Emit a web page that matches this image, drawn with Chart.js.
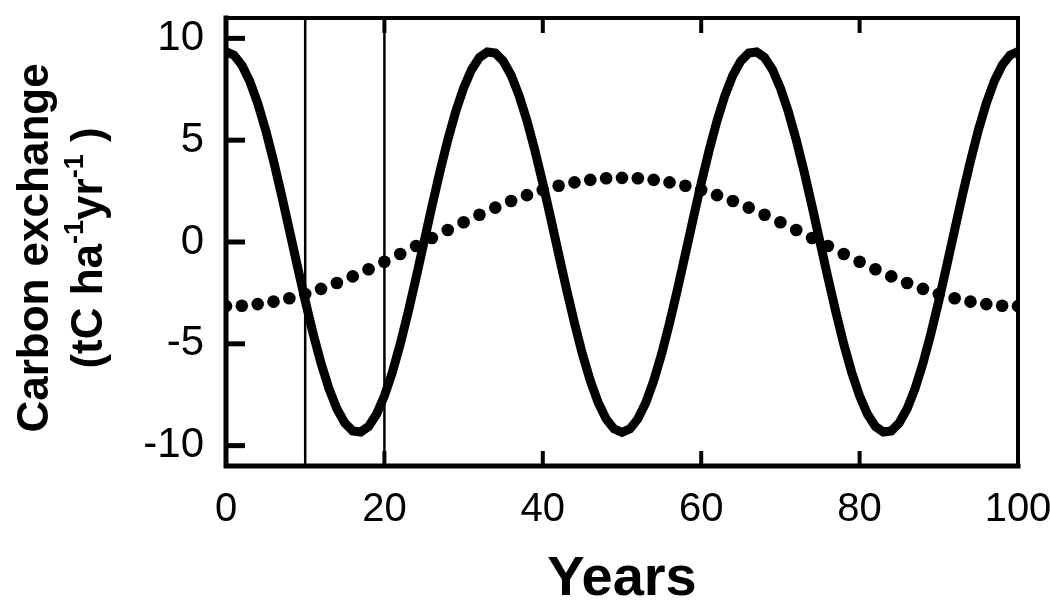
<!DOCTYPE html>
<html>
<head>
<meta charset="utf-8">
<title>Carbon exchange</title>
<script src="https://cdn.jsdelivr.net/npm/chart.js@4.4.1/dist/chart.umd.min.js"></script>
<style>
    html, body { margin: 0; padding: 0; background: #fff; }
    #wrap { width: 1050px; height: 602px; position: relative; }
</style>
</head>
<body>
<div id="wrap"><canvas id="carbonChart"></canvas></div>
<script>
// Curva sólida: troca anual de carbono (um valor por ano, 0..100)
const solidValues = [
    9.35, 9.18, 8.69, 7.89, 6.82, 5.50, 3.98, 2.33, 0.59, -1.17,
    -2.89, -4.50, -5.96, -7.20, -8.19, -8.89, -9.28, -9.33, -9.06, -8.46,
    -7.56, -6.40, -5.01, -3.44, -1.75, 0.00, 1.75, 3.44, 5.01, 6.40,
    7.56, 8.46, 9.06, 9.33, 9.28, 8.89, 8.19, 7.20, 5.96, 4.50,
    2.89, 1.17, -0.59, -2.33, -3.98, -5.50, -6.82, -7.89, -8.69, -9.18,
    -9.35, -9.18, -8.69, -7.89, -6.82, -5.50, -3.98, -2.33, -0.59, 1.17,
    2.89, 4.50, 5.96, 7.20, 8.19, 8.89, 9.28, 9.33, 9.06, 8.46,
    7.56, 6.40, 5.01, 3.44, 1.75, 0.00, -1.75, -3.44, -5.01, -6.40,
    -7.56, -8.46, -9.06, -9.33, -9.28, -8.89, -8.19, -7.20, -5.96, -4.50,
    -2.89, -1.17, 0.59, 2.33, 3.98, 5.50, 6.82, 7.89, 8.69, 9.18,
    9.35
];

// Curva pontilhada: um ponto a cada 2 anos (0, 2, ..., 100)
const dottedValues = [
    -3.15, -3.13, -3.05, -2.93, -2.76, -2.55, -2.30, -2.01, -1.69, -1.34,
    -0.97, -0.59, -0.20, 0.20, 0.59, 0.97, 1.34, 1.69, 2.01, 2.30,
    2.55, 2.76, 2.93, 3.05, 3.13, 3.15, 3.13, 3.05, 2.93, 2.76,
    2.55, 2.30, 2.01, 1.69, 1.34, 0.97, 0.59, 0.20, -0.20, -0.59,
    -0.97, -1.34, -1.69, -2.01, -2.30, -2.55, -2.76, -2.93, -3.05, -3.13,
    -3.15
];

// Linhas verticais de referência
const markerYears = [10, 20];

// Eixos
const xTicks = [0, 20, 40, 60, 80, 100];
const yTicks = [-10, -5, 0, 5, 10];
const xInnerTicks = [20, 40, 60, 80];
const xRange = [0, 100];
const yRange = [-11, 11];

const FONT = '"Liberation Sans", Arial, Helvetica, sans-serif';

const solidYears = solidValues.map((_, i) => i);
const dottedYears = dottedValues.map((_, i) => i * 2);

// Moldura do gráfico com marcas internas
const framePlugin = {
    id: 'frame',
    afterDatasetsDraw(chart) {
        const { ctx, chartArea: a, scales: { x, y } } = chart;
        ctx.save();
        ctx.strokeStyle = '#000';
        ctx.lineCap = 'square';

        ctx.lineWidth = 5;
        ctx.beginPath();
        ctx.moveTo(a.left, a.top);
        ctx.lineTo(a.left, a.bottom);
        ctx.lineTo(a.right, a.bottom);
        ctx.stroke();

        ctx.lineWidth = 4;
        ctx.beginPath();
        ctx.moveTo(a.left, a.top);
        ctx.lineTo(a.right, a.top);
        ctx.lineTo(a.right, a.bottom);
        ctx.stroke();

        ctx.lineCap = 'butt';
        ctx.lineWidth = 5;
        yTicks.forEach(v => {
            const py = y.getPixelForValue(v);
            ctx.beginPath();
            ctx.moveTo(a.left, py);
            ctx.lineTo(a.left + 19, py);
            ctx.stroke();
        });

        ctx.lineWidth = 4;
        xInnerTicks.forEach(v => {
            const px = x.getPixelForValue(v);
            ctx.beginPath();
            ctx.moveTo(px, a.bottom);
            ctx.lineTo(px, a.bottom - 15);
            ctx.moveTo(px, a.top);
            ctx.lineTo(px, a.top + 15);
            ctx.stroke();
        });
        ctx.restore();
    }
};

// Título do eixo Y com sobrescritos
const yTitlePlugin = {
    id: 'yTitle',
    afterDraw(chart) {
        const { ctx, chartArea: a } = chart;
        const cy = (a.top + a.bottom) / 2 + 6;
        const mainFont = 'bold 44px ' + FONT;
        const supFont = 'bold 27px ' + FONT;

        ctx.save();
        ctx.fillStyle = '#000';
        ctx.textBaseline = 'alphabetic';

        // linha 1
        ctx.save();
        ctx.translate(48, cy);
        ctx.rotate(-Math.PI / 2);
        ctx.font = mainFont;
        ctx.textAlign = 'center';
        ctx.fillText('Carbon exchange', 0, 0);
        ctx.restore();

        // linha 2
        const parts = [
            { t: '(tC ha', sup: false },
            { t: '-1', sup: true },
            { t: 'yr', sup: false },
            { t: '-1', sup: true },
            { t: ' )', sup: false }
        ];
        let total = 0;
        parts.forEach(p => {
            ctx.font = p.sup ? supFont : mainFont;
            p.w = ctx.measureText(p.t).width;
            total += p.w;
        });
        ctx.save();
        ctx.translate(102, cy);
        ctx.rotate(-Math.PI / 2);
        ctx.textAlign = 'left';
        let pos = -total / 2;
        parts.forEach(p => {
            ctx.font = p.sup ? supFont : mainFont;
            ctx.fillText(p.t, pos, p.sup ? -19 : 0);
            pos += p.w;
        });
        ctx.restore();
        ctx.restore();
    }
};

const datasets = [
    {
        label: 'solid',
        data: solidYears.map((yr, i) => ({ x: yr, y: solidValues[i] })),
        borderColor: '#000',
        borderWidth: 9,
        pointRadius: 0,
        tension: 0,
        order: 2
    },
    {
        label: 'dotted',
        data: dottedYears.map((yr, i) => ({ x: yr, y: dottedValues[i] })),
        showLine: false,
        pointRadius: 6.3,
        pointBackgroundColor: '#000',
        pointBorderWidth: 0,
        order: 1
    }
];

markerYears.forEach(yr => {
    datasets.push({
        label: 'ano ' + yr,
        data: [{ x: yr, y: yRange[0] }, { x: yr, y: yRange[1] }],
        borderColor: '#000',
        borderWidth: 2.5,
        pointRadius: 0,
        order: 3
    });
});

new Chart(document.getElementById('carbonChart'), {
    type: 'line',
    data: { datasets: datasets },
    options: {
        responsive: true,
        maintainAspectRatio: false,
        animation: false,
        layout: { padding: { top: 18, right: 32, left: 0, bottom: 0 } },
        scales: {
            x: {
                type: 'linear',
                min: xRange[0],
                max: xRange[1],
                afterBuildTicks: s => { s.ticks = xTicks.map(v => ({ value: v })); },
                afterFit: s => { s.height = 136; s.paddingLeft = 0; s.paddingRight = 0; },
                grid: { display: false, drawTicks: false },
                border: { display: false },
                ticks: {
                    color: '#000',
                    padding: 20,
                    maxRotation: 0,
                    font: { family: FONT, size: 40 }
                },
                title: {
                    display: true,
                    text: 'Years',
                    color: '#000',
                    padding: 0,
                    font: { family: FONT, size: 56, weight: 'bold', lineHeight: 0.8 }
                }
            },
            y: {
                min: yRange[0],
                max: yRange[1],
                afterBuildTicks: s => { s.ticks = yTicks.map(v => ({ value: v })); },
                afterFit: s => { s.width = 226; s.paddingTop = 0; s.paddingBottom = 0; },
                grid: { display: false, drawTicks: false },
                border: { display: false },
                ticks: {
                    color: '#000',
                    padding: 22,
                    font: { family: FONT, size: 42 }
                }
            }
        },
        plugins: {
            legend: { display: false },
            tooltip: { enabled: false }
        }
    },
    plugins: [framePlugin, yTitlePlugin]
});
</script>
</body>
</html>
